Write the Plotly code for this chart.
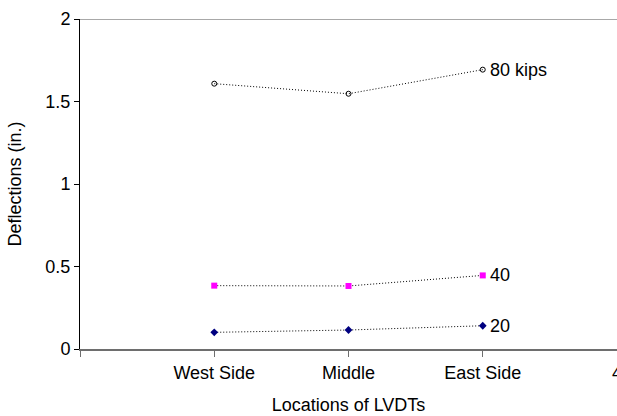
import plotly.graph_objects as go

categories = ["West Side", "Middle", "East Side"]
x_pos = [1, 2, 3]
load_20 = [0.101, 0.115, 0.141]
load_40 = [0.384, 0.382, 0.446]
load_80 = [1.608, 1.547, 1.693]
series_labels = ["20", "40", "80 kips"]

FONT = "Liberation Sans, Arial, sans-serif"

fig = go.Figure()
fig.add_trace(go.Scatter(x=x_pos, y=load_20, mode="lines+markers",
                         line=dict(color="black", width=1, dash="1px,2px"),
                         marker=dict(symbol="diamond", size=6, color="#000080")))
fig.add_trace(go.Scatter(x=x_pos, y=load_40, mode="lines+markers",
                         line=dict(color="black", width=1, dash="1px,2px"),
                         marker=dict(symbol="square", size=6, color="#FF00FF")))
fig.add_trace(go.Scatter(x=x_pos, y=load_80, mode="lines+markers",
                         line=dict(color="black", width=1, dash="1px,2px"),
                         marker=dict(symbol="circle-open", size=5, color="black",
                                     line=dict(width=1, color="black"))))

for ys, lab in zip([load_20, load_40, load_80], series_labels):
    fig.add_annotation(x=x_pos[-1], y=ys[-1], text=lab, showarrow=False,
                       xanchor="left", xshift=5, font=dict(size=18, color="black", family=FONT))

fig.add_shape(type="line", xref="paper", yref="y", x0=0, x1=1, y0=2, y1=2,
              line=dict(color="#a8a8a8", width=2))

fig.update_layout(
    width=617, height=416,
    margin=dict(l=80, r=0, t=19, b=67),
    paper_bgcolor="white", plot_bgcolor="white",
    showlegend=False,
    font=dict(family=FONT, size=18, color="black"),
    xaxis=dict(range=[0, 4], tickmode="array", tickvals=[0, 1, 2, 3, 4],
               ticktext=["", *categories, "4"], automargin=False,
               ticklabeloverflow="allow",
               showgrid=False, zeroline=False, showline=True,
               linecolor="#6e6e6e", linewidth=2,
               ticks="outside", ticklen=6, tickcolor="#6e6e6e", tickwidth=1,
               title=dict(text="Locations of LVDTs", standoff=17, font=dict(size=18)),
               tickfont=dict(size=18)),
    yaxis=dict(range=[0, 2], tickvals=[0, 0.5, 1, 1.5, 2],
               ticktext=["0", "0.5", "1", "1.5", "2"], automargin=False,
               showgrid=False, zeroline=False, showline=True,
               linecolor="black", linewidth=1,
               ticks="outside", ticklen=5, tickcolor="black",
               title=dict(text="Deflections (in.)", standoff=19, font=dict(size=18)),
               tickfont=dict(size=18)),
)

fig.write_html("out.html", config={"displayModeBar": False},
               post_script="document.body.style.margin='0';document.body.style.overflow='hidden';")
